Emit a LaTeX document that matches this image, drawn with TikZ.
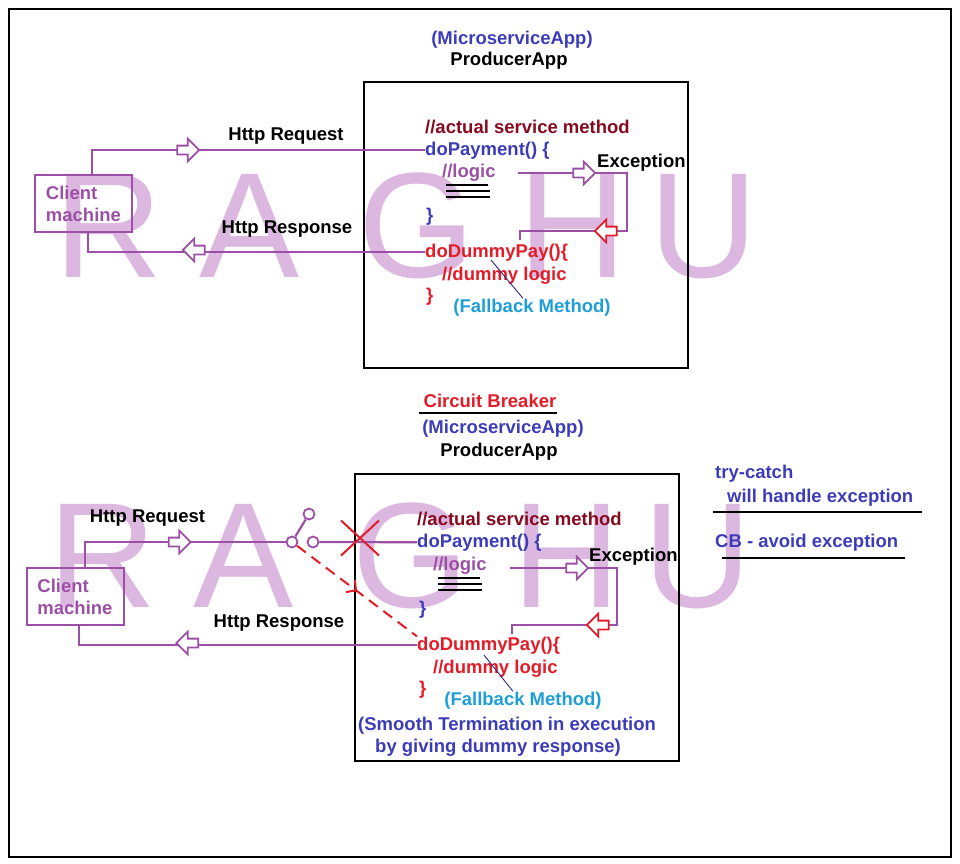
\documentclass[tikz,border=0pt]{standalone}
\usepackage{fontspec}
\setmainfont{Liberation Sans}
\usetikzlibrary{shapes.arrows,shapes.misc,decorations.markings,arrows.meta}
\definecolor{wmpink}{RGB}{220,184,224}
\definecolor{lnpurple}{RGB}{155,80,165}
\definecolor{txblue}{RGB}{60,60,185}
\definecolor{txmaroon}{RGB}{135,10,30}
\definecolor{txred}{RGB}{228,28,40}
\definecolor{txcyan}{RGB}{30,158,214}
\definecolor{navyline}{RGB}{40,40,120}
\newcommand{\codeLines}[2]{ \draw[codeline] (#1,#2) -- +(42,0) (#1,#2+6)
  -- +(44,0) (#1,#2+12) -- +(44,0); }
\tikzset{
  lbl/.style={font=\fontsize{18.5}{22}\selectfont\bfseries, inner sep=0pt,
    anchor=base west},
  mid/.style={anchor=base},
  wmark/.style={font=\fontsize{150}{150}\selectfont, text=wmpink,
    inner sep=0pt, anchor=base},
  client/.style={draw=lnpurple, line width=2pt, text=lnpurple, align=left,
    font=\fontsize{18.5}{22}\selectfont\bfseries, minimum width=97pt,
    minimum height=57pt, inner sep=0pt},
  appbox/.style={draw=black, line width=2.6pt},
  conn/.style={draw=lnpurple, line width=2.2pt},
  harrow/.style={single arrow, draw=lnpurple, fill=white, line width=1.8pt,
    minimum height=22pt, minimum width=20pt, inner xsep=0pt, inner ysep=3.5pt},
  back/.style={shape border rotate=180},
  redtip/.style={draw=txred},
  swdot/.style={circle, draw=lnpurple, fill=white, line width=1.8pt,
    minimum size=11pt, inner sep=0pt},
  codeline/.style={draw=black, line width=2pt},
  ul/.style={draw=black, line width=2pt},
  pointer/.style={draw=navyline, line width=0.9pt},
  breakline/.style={draw=txred, line width=2pt, dash pattern=on 11pt off 7pt,
    postaction={decorate}, decoration={markings, mark=at position .5 with
      {\arrow{Straight Barb[length=7pt,width=15pt]}}}}
}
\begin{document}
\begin{tikzpicture}[x=1pt,y=-1pt]
  \useasboundingbox (0,0) rectangle (960,863);
  % watermark
  \foreach \ch/\cx in {R/109,A/250,G/417,H/573,U/704}{
    \node[wmark] (wt\ch) at (\cx,277) {\ch};
    \node[wmark] (wb\ch) at (\cx-6,607) {\ch};
  }
  \draw[line width=2pt] (9,9) rectangle (951,857);

  % plain call with fallback
  \draw[appbox] (364,82) rectangle (688,368);
  \node[lbl, mid, txblue] (ms1) at (512,44) {(MicroserviceApp)};
  \node[lbl, mid] (pa1) at (509,65) {ProducerApp};
  \node[lbl, txmaroon] (cm1) at (425,133) {//actual service method};
  \node[lbl, txblue] (dp1) at (425,155) {doPayment() \{};
  \node[lbl, lnpurple] (lg1) at (442,177) {//logic};
  \codeLines{446}{185}
  \node[lbl, txblue] (cb1) at (426,221) {\}};
  \node[lbl, txred] (dd1) at (425,257) {doDummyPay()\{};
  \node[lbl, txred] (dl1) at (442,280) {//dummy logic};
  \node[lbl, txred] (ce1) at (426,301) {\}};
  \node[lbl, mid, txcyan] (fb1) at (532,312) {(Fallback Method)};
  \node[lbl] (ex1) at (597,167) {Exception};
  \node[client] (cl1) at (83.5,203.5) {Client\\machine};
  \node[lbl, mid] (rq1) at (286,140) {Http Request};
  \node[lbl, mid] (rs1) at (287,233) {Http Response};

  \draw[conn] ([xshift=8.5pt]cl1.north) |- (dp1.west);
  \draw[conn] (dd1.west) -| ([xshift=4.5pt]cl1.south);
  \node[harrow] (ra1) at (186,150) {};
  \node[harrow, back] (sa1) at (196,250) {};
  \coordinate (ea1) at (518,173);
  \coordinate (eb1) at (627,231);
  \coordinate (ec1) at (520,240);
  \draw[conn] (ea1) -| (eb1) -- (ec1 |- eb1) -- (ec1);
  \node[harrow] (xa1) at (582,173) {};
  \node[harrow, back, redtip] (xb1) at (608,231) {};
  \draw[pointer] ([xshift=66pt,yshift=-3pt]dd1.base west) -- ([xshift=-9pt]fb1.north);

  % with circuit breaker
  \node[lbl, mid, txred] (cbk) at (490,407) {Circuit Breaker};
  \draw[ul] ([xshift=-4pt,yshift=-6pt]cbk.base west) -- ([yshift=-6pt]cbk.base east);
  \draw[appbox] (355,474) rectangle (679,761);
  \node[lbl, mid, txblue] (ms2) at (503,433) {(MicroserviceApp)};
  \node[lbl, mid] (pa2) at (499,456) {ProducerApp};
  \node[lbl, txmaroon] (cm2) at (417,525) {//actual service method};
  \node[lbl, txblue] (dp2) at (417,547) {doPayment() \{};
  \node[lbl, lnpurple] (lg2) at (433,570) {//logic};
  \codeLines{438}{578}
  \node[lbl, txblue] (cb2) at (419,614) {\}};
  \node[lbl, txred] (dd2) at (417,650) {doDummyPay()\{};
  \node[lbl, txred] (dl2) at (433,673) {//dummy logic};
  \node[lbl, txred] (ce2) at (419,694) {\}};
  \node[lbl, mid, txcyan] (fb2) at (523,705) {(Fallback Method)};
  \node[lbl, txblue] (st2) at (358,730) {(Smooth Termination in execution};
  \node[lbl, txblue] (st3) at (375,752) {by giving dummy response)};
  \node[lbl] (ex2) at (589,561) {Exception};
  \node[client] (cl2) at (75,596.5) {Client\\machine};
  \node[lbl, mid] (rq2) at (147.5,522) {Http Request};
  \node[lbl, mid] (rs2) at (279,627) {Http Response};

  \node[swdot] (swL) at (292,542) {};
  \node[swdot] (swR) at (313,542) {};
  \node[swdot] (swU) at (309,514) {};
  \draw[conn] ([xshift=10pt]cl2.north) |- (swL);
  \draw[conn] (swL) -- (swU);
  \draw[conn] (swR) -- (dp2.west);
  \draw[conn] (dd2.west) -| ([xshift=4pt]cl2.south);
  \node[harrow] (ra2) at (177.5,542) {};
  \node[harrow, back] (sa2) at (189.5,643) {};
  \coordinate (ea2) at (510,568);
  \coordinate (eb2) at (617,625);
  \coordinate (ec2) at (512,634);
  \draw[conn] (ea2) -| (eb2) -- (ec2 |- eb2) -- (ec2);
  \node[harrow] (xa2) at (575,568) {};
  \node[harrow, back, redtip] (xb2) at (600,625) {};
  \draw[breakline] (swL) -- (dd2.north west);
  \node[cross out, draw=txred, line width=2pt, minimum width=36pt,
    minimum height=33pt] (xm) at (360,538) {};
  \draw[pointer] ([xshift=67pt,yshift=-5pt]dd2.base west) -- ([xshift=-10pt]fb2.north);

  % notes
  \node[lbl, txblue] (tc) at (715,478) {try-catch};
  \node[lbl, txblue] (wh) at (727,502) {will handle exception};
  \draw[ul] (713,512) -- (922,512);
  \node[lbl, txblue] (cbav) at (715,547) {CB - avoid exception};
  \draw[ul] (722,558) -- (905,558);
\end{tikzpicture}
\end{document}
